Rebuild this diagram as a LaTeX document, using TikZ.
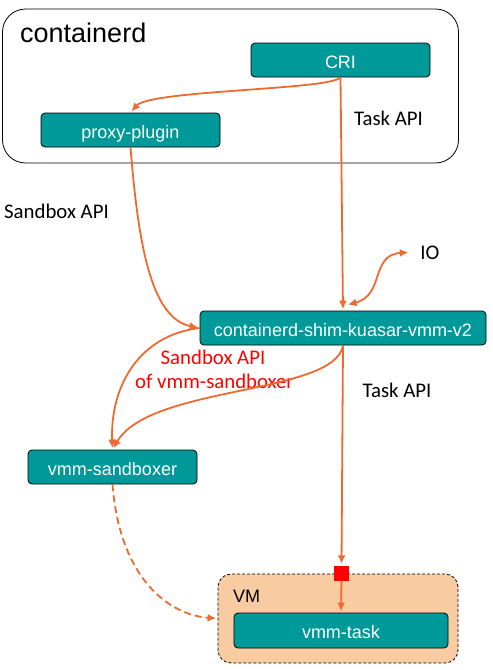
\documentclass[tikz,border=0pt]{standalone}
\usepackage{fontspec}
\setmainfont{Liberation Sans}
\newfontfamily\carlito{Carlito}
\usetikzlibrary{arrows.meta}
\definecolor{teal1}{RGB}{0,153,153}
\definecolor{orng}{RGB}{238,106,48}
\definecolor{peach}{RGB}{248,203,160}
\definecolor{redsq}{RGB}{255,0,0}
\begin{document}
\begin{tikzpicture}[x=1pt,y=-1pt,
 comp/.style={draw=black, line width=0.8pt, fill=teal1, rounded corners=4pt, text=white,
   font=\fontsize{18}{20}\selectfont, inner sep=0pt, text height=16pt, text depth=0pt},
 lbl/.style={font=\carlito\fontsize{20.8}{24}\selectfont, inner sep=0pt, anchor=base},
 conn/.style={draw=orng, line width=1.8pt, -{Latex[length=8.5pt,width=8pt]}, shorten >=1.5pt},
]
\useasboundingbox (0,0) rectangle (493,670);
% containerd group
\node[draw=black, line width=0.8pt, rounded corners=23pt, minimum width=456pt, minimum height=154pt, inner sep=0pt] (cd) at (230.5,86) {};
\node[font=\fontsize{27}{30}\selectfont, inner sep=0pt, anchor=base west] (title) at (20,42) {containerd};
\node[comp, minimum width=179pt, minimum height=34pt] (cri) at (340.5,60) {CRI};
\node[comp, minimum width=179pt, minimum height=34pt] (proxy) at (130.5,130) {proxy-plugin};
\node[comp, minimum width=286pt, minimum height=34pt] (shim) at (343,328) {containerd-shim-kuasar-vmm-v2};
\node[comp, minimum width=169pt, minimum height=34pt] (sbx) at (112.5,467) {vmm-sandboxer};
% VM group
\node[draw=black, line width=0.8pt, dash pattern=on 3pt off 2pt, fill=peach, rounded corners=13pt, minimum width=240pt, minimum height=89pt, inner sep=0pt] (vm) at (338,618.5) {};
\node[font=\fontsize{18}{20}\selectfont, inner sep=0pt, anchor=base west] (vmlbl) at (233,602) {VM};
\node[comp, minimum width=214pt, minimum height=35pt] (task) at (341,630.5) {vmm-task};
% labels
\node[lbl] (taskapi1) at (388.5,125) {Task API};
\node[lbl] (sbapi) at (56.5,218) {Sandbox API};
\node[lbl] (io) at (430,259) {IO};
\node[lbl] (taskapi2) at (397,397) {Task API};
\node[lbl, text=redsq] (red1) at (213,364) {Sandbox API};
\node[lbl, text=redsq] (red2) at (214.5,388) {of vmm-sandboxer};
% connectors
\draw[conn] (cri.south) .. controls (330,90) and (150,90) .. (proxy.north);
\draw[conn] (cri.south) -- (shim.north);
\draw[draw=orng, line width=1.8pt, {Latex[length=8.5pt,width=8pt]}-{Latex[length=8.5pt,width=8pt]}]
  ([xshift=5pt,yshift=6pt]shim.north) .. controls (385,295) and (370,255) .. ([xshift=-12pt]io.west);
\draw[conn] (proxy.south) .. controls (138,240) and (150,318) .. (shim.west);
\draw[conn] (shim.west) .. controls (140,335) and (110,385) .. (sbx.north);
\draw[conn] (shim.south) .. controls (335,395) and (150,385) .. (sbx.north);
\node[fill=redsq, minimum size=15pt, inner sep=0pt] (sq) at (341.5,573) {};
\draw[conn] (shim.south) -- (sq.north);
\draw[conn] (sq.south) -- (task.north);
\draw[conn, dash pattern=on 7pt off 4pt] (sbx.south) .. controls (120,580) and (170,615) .. (vm.west);
\end{tikzpicture}
\end{document}
